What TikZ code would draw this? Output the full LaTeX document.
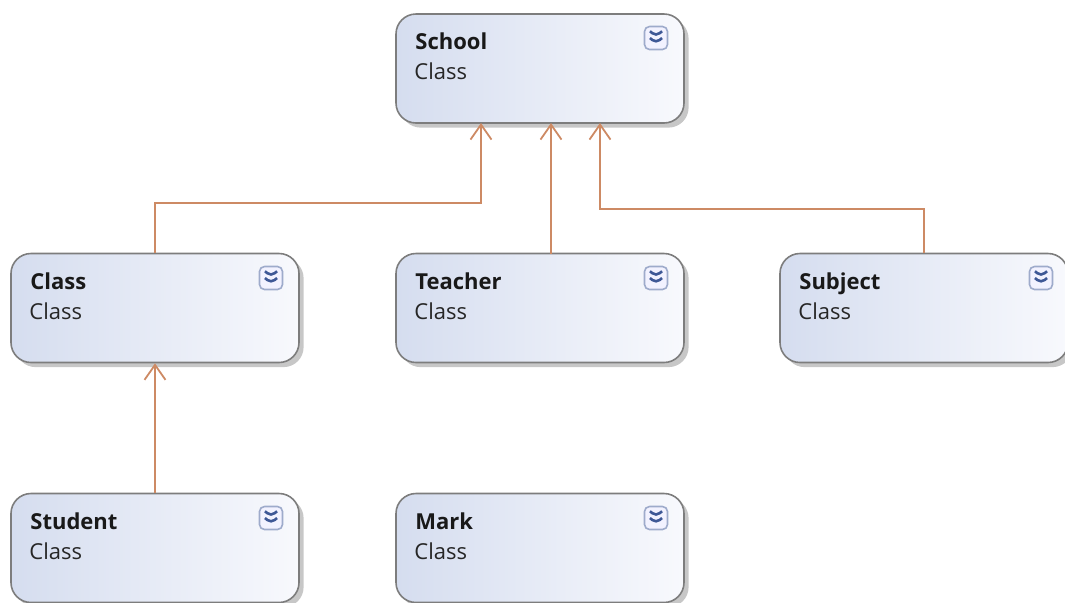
\documentclass[tikz,border=0pt]{standalone}
\usepackage{fontspec}
\setmainfont{Open Sans}
\usepackage{tikz}
\usetikzlibrary{arrows,arrows.meta,positioning,shadows}
\definecolor{boxleft}{RGB}{213,221,239}
\definecolor{boxright}{RGB}{248,249,253}
\definecolor{boxline}{RGB}{125,125,125}
\definecolor{inherit}{RGB}{205,138,100}
\definecolor{iconblue}{RGB}{62,88,150}
\tikzset{font=\fontsize{11}{13}\selectfont}
\tikzstyle{classbox}=[rectangle,rounded corners=10pt,draw=boxline,line width=0.8pt,
  left color=boxleft,right color=boxright,inner sep=0pt,
  minimum width=144pt,minimum height=54.5pt,
  general shadow={fill=black!22,shadow xshift=2.3pt,shadow yshift=-2.3pt}]
\tikzstyle{title}=[anchor=base west,inner sep=0pt,text=black!90,font=\fontsize{11}{13}\selectfont\bfseries]
\tikzstyle{kind}=[anchor=base west,inner sep=0pt,text=black!85]
\tikzstyle{expand}=[rectangle,rounded corners=2.5pt,draw=iconblue!50,fill=blue!5,
  line width=0.8pt,minimum size=11.5pt,inner sep=0pt,
  path picture={\draw[iconblue,line width=1.3pt]
    ([shift={(-3pt,3.4pt)}]path picture bounding box.center) -- ++(3pt,-2.6pt) -- ++(3pt,2.6pt)
    ([shift={(-3pt,0pt)}]path picture bounding box.center) -- ++(3pt,-2.6pt) -- ++(3pt,2.6pt);}]
\tikzstyle{inh}=[draw=inherit,line width=0.9pt,-{Straight Barb[length=7.5pt,width=10.5pt,line width=0.9pt]}]

\begin{document}
\begin{tikzpicture}[x=0.5pt,y=-0.5pt]
\useasboundingbox (0,0) rectangle (1065,602);
% class boxes
\node[classbox] (school) at (540,68.5) {};
\node[classbox] (class) at (155,308) {};
\node[classbox] (teacher) at (540,308) {};
\node[classbox] (subject) at (924,308) {};
\node[classbox] (student) at (155,548) {};
\node[classbox] (mark) at (540,548) {};
% names
\node[title] (schoolT) at (415,49) {School};
\node[kind] (schoolK) at (414,79) {Class};
\node[expand] (schoolE) at (656,38) {};
\node[title] (classT) at (30,289) {Class};
\node[kind] (classK) at (29,319) {Class};
\node[expand] (classE) at (271,278) {};
\node[title] (teacherT) at (415,289) {Teacher};
\node[kind] (teacherK) at (414,319) {Class};
\node[expand] (teacherE) at (656,278) {};
\node[title] (subjectT) at (799,289) {Subject};
\node[kind] (subjectK) at (798,319) {Class};
\node[expand] (subjectE) at (1041,278) {};
\node[title] (studentT) at (30,529) {Student};
\node[kind] (studentK) at (29,559) {Class};
\node[expand] (studentE) at (271,518) {};
\node[title] (markT) at (415,529) {Mark};
\node[kind] (markK) at (414,559) {Class};
\node[expand] (markE) at (656,518) {};
% inheritance
\coordinate (s1) at (481,123);
\coordinate (s2) at (551,123);
\coordinate (s3) at (600,123);
\coordinate (k1) at (481,203);
\coordinate (k3) at (600,209);
\coordinate (t1) at (551,254);
\draw[inh] (class.north) |- (k1) -- (s1);
\draw[inh] (t1) -- (s2);
\draw[inh] (subject.north) |- (k3) -- (s3);
\draw[inh] (student.north) -- (class.south);
\end{tikzpicture}
\end{document}
